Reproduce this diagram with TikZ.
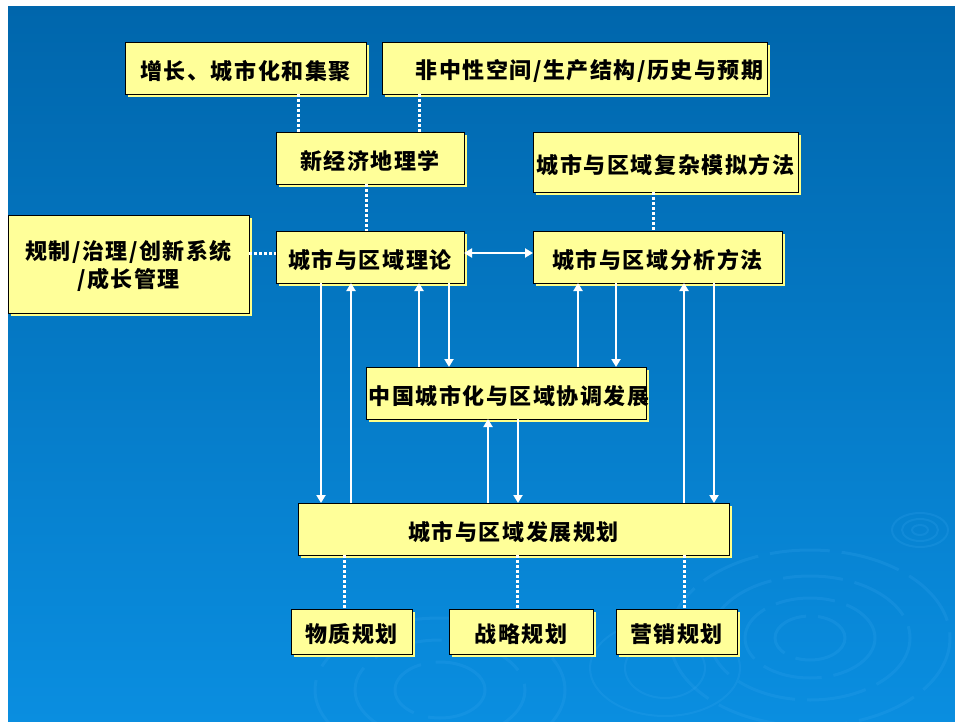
\documentclass[tikz,border=0pt]{standalone}
\usepackage{fontspec}
\newfontfamily\cjk[LetterSpace=7]{Noto Sans CJK SC}
\usetikzlibrary{arrows.meta,shadows}
\definecolor{bgtop}{HTML}{0066AC}
\definecolor{bgbot}{HTML}{0A8EE0}
\definecolor{boxfill}{HTML}{FFFF99}
\definecolor{boxshadow}{HTML}{FFFF88}
\definecolor{ripple}{HTML}{3AA8F0}
\newcommand{\lowr}[1]{\raisebox{-3pt}[\height][\depth]{#1}}
\tikzset{
  box/.style={draw=black, line width=0.9pt, fill=boxfill, inner sep=0pt, outer sep=0pt,
    font=\cjk\bfseries\fontsize{22pt}{28pt}\selectfont, align=center,
    drop shadow={shadow xshift=3pt, shadow yshift=-3pt, fill=boxshadow, opacity=1}},
  arr/.style={draw=white, line width=2pt, -{Triangle[width=9pt,length=8pt]}},
  dbl/.style={draw=white, line width=2pt, {Triangle[width=9pt,length=8pt]}-{Triangle[width=9pt,length=8pt]}},
  dot/.style={draw=white, line width=3pt, dash pattern=on 3pt off 2pt},
  rip/.style={draw=ripple, line width=3pt, opacity=0.2}
}
\begin{document}
\begin{tikzpicture}[x=1pt,y=-1pt]
\useasboundingbox (0,0) rectangle (955,722);
\fill[white] (0,0) rectangle (955,722);
\shade[top color=bgtop, bottom color=bgbot] (8,7) rectangle (955,722);
% ripples
\foreach \rx/\ry in {8/5,18/11,28/17} {\draw[rip, line width=2pt] (920,530) ellipse ({\rx} and {\ry});}
\foreach \rx/\ry in {35/22,65/40,100/62,140/88} {\draw[rip, dash pattern=on 60pt off 12pt] (810,638) ellipse ({\rx} and {\ry});}
\foreach \rx/\ry in {45/28,85/50,125/72} {\draw[rip, dash pattern=on 70pt off 15pt] (440,690) ellipse ({\rx} and {\ry});}
\foreach \rx/\ry in {40/30,75/48} {\draw[rip, line width=2pt] (665,668) ellipse ({\rx} and {\ry});}
% boxes
\node[box, minimum width=241pt, minimum height=52pt] (A) at (245.5,68) {\lowr{增长、城市化和集聚}};
\node[box, minimum width=385pt, minimum height=52pt] (B) at (574.5,68) {\makebox[0pt]{\hspace{30pt}\lowr{非中性空间/生产结构/历史与预期}}};
\node[box, minimum width=188pt, minimum height=52pt] (C) at (370,158) {\lowr{新经济地理学}};
\node[box, minimum width=265pt, minimum height=60pt] (D) at (665.5,162) {\makebox[0pt]{\lowr{城市与区域复杂模拟方法}}};
\node[box, minimum width=241pt, minimum height=98pt] (E) at (128.5,264) {\raisebox{-4pt}[\height][\depth]{\begin{tabular}{@{}c@{}}\makebox[0pt]{规制/治理/创新系统}\\/成长管理\end{tabular}}};
\node[box, minimum width=188pt, minimum height=52pt] (F) at (370,257) {\lowr{城市与区域理论}};
\node[box, minimum width=249pt, minimum height=52pt] (G) at (657.5,257) {\lowr{城市与区域分析方法}};
\node[box, minimum width=280pt, minimum height=52pt] (H) at (506,393) {\makebox[0pt]{\hspace{6pt}\lowr{中国城市化与区域协调发展}}};
\node[box, minimum width=431pt, minimum height=52pt] (I) at (513.5,529) {\lowr{城市与区域发展规划}};
\node[box, minimum width=121pt, minimum height=45pt] (J) at (351.5,631.5) {\lowr{物质规划}};
\node[box, minimum width=144pt, minimum height=45pt] (K) at (521,631.5) {\lowr{战略规划}};
\node[box, minimum width=121pt, minimum height=45pt] (L) at (676.5,631.5) {\lowr{营销规划}};
% dotted links
\draw[dot] (A.south -| 298,0) -- (C.north -| 298,0);
\draw[dot] (B.south -| 419,0) -- (C.north -| 419,0);
\draw[dot] (C.south -| 366,0) -- (F.north -| 366,0);
\draw[dot] (D.south -| 653,0) -- (G.north -| 653,0);
\draw[dot] (E.east |- 0,253) -- (F.west |- 0,253);
\draw[dot] (I.south -| 344,0) -- (J.north -| 344,0);
\draw[dot] (I.south -| 517,0) -- (K.north -| 517,0);
\draw[dot] (I.south -| 684,0) -- (L.north -| 684,0);
% arrows
\draw[dbl] (F.east |- 0,253) -- (G.west |- 0,253);
\draw[arr] (F.south -| 321,0) -- (I.north -| 321,0);
\draw[arr] (I.north -| 351,0) -- (F.south -| 351,0);
\draw[arr] (H.north -| 419,0) -- (F.south -| 419,0);
\draw[arr] (F.south -| 449,0) -- (H.north -| 449,0);
\draw[arr] (H.north -| 578,0) -- (G.south -| 578,0);
\draw[arr] (G.south -| 616,0) -- (H.north -| 616,0);
\draw[arr] (I.north -| 684,0) -- (G.south -| 684,0);
\draw[arr] (G.south -| 714,0) -- (I.north -| 714,0);
\draw[arr] (I.north -| 488,0) -- (H.south -| 488,0);
\draw[arr] (H.south -| 518,0) -- (I.north -| 518,0);
\end{tikzpicture}
\end{document}
